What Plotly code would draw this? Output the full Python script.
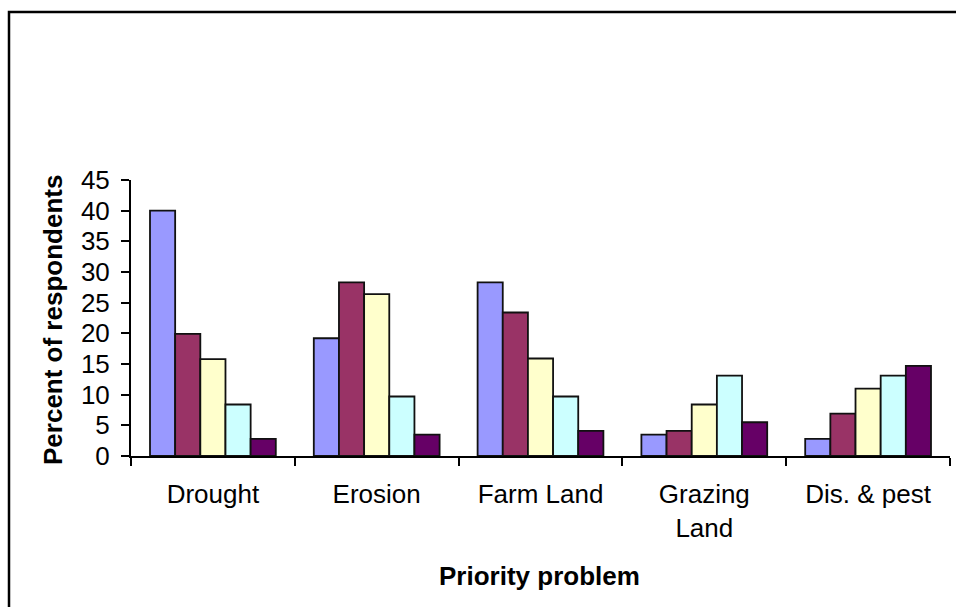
import plotly.graph_objects as go

categories = ["Drought", "Erosion", "Farm Land", "Grazing<br>Land", "Dis. & pest"]
series_names = ["Series 1", "Series 2", "Series 3", "Series 4", "Series 5"]
series_values = [
    [40.0, 19.2, 28.3, 3.5, 2.8],
    [19.9, 28.3, 23.4, 4.1, 6.9],
    [15.8, 26.4, 15.9, 8.4, 11.0],
    [8.4, 9.7, 9.7, 13.1, 13.1],
    [2.8, 3.5, 4.1, 5.5, 14.7],
]
colors = ["#9999FF", "#993366", "#FFFFCC", "#CCFFFF", "#660066"]
y_ticks = [0, 5, 10, 15, 20, 25, 30, 35, 40, 45]

W, H = 956, 607
L, R, T, B = 131, 6, 180, 151
pw, ph = W - L - R, H - T - B

fig = go.Figure()
for name, vals, col in zip(series_names, series_values, colors):
    fig.add_trace(go.Bar(
        x=categories, y=vals, name=name,
        marker=dict(color=col, line=dict(color="#111111", width=1.8)),
    ))

font = "Liberation Sans, Arial, sans-serif"
FS = 26
fig.update_layout(
    width=W, height=H,
    margin=dict(l=L, r=R, t=T, b=B, pad=0),
    paper_bgcolor="white", plot_bgcolor="white",
    barmode="group", bargap=0.232, bargroupgap=0,
    showlegend=False,
    font=dict(family=font, size=FS, color="black"),
    xaxis=dict(
        type="category", tickson="boundaries",
        ticks="outside", ticklen=8, tickwidth=1.5, tickcolor="black",
        showline=True, linecolor="black", linewidth=2,
        showgrid=False, zeroline=False,
        tickfont=dict(family=font, size=FS, color="black"),
        ticklabelstandoff=14,
    ),
    yaxis=dict(
        range=[0, 45], tickvals=y_ticks, ticktext=[str(v) for v in y_ticks],
        ticks="outside", ticklen=8, tickwidth=1.5, tickcolor="black",
        showline=True, linecolor="black", linewidth=2,
        showgrid=False, zeroline=False,
        tickfont=dict(family=font, size=FS, color="black"),
        ticklabelstandoff=6,
    ),
    annotations=[
        dict(text="<b>Percent of respondents</b>", xref="paper", yref="paper",
             x=(53 - L) / pw, y=(H - B - 320) / ph, textangle=-90,
             showarrow=False, xanchor="center", yanchor="middle",
             font=dict(family=font, size=FS, color="black")),
        dict(text="<b>Priority problem</b>", xref="paper", yref="paper",
             x=(539 - L) / pw, y=(H - B - 576) / ph,
             showarrow=False, xanchor="center", yanchor="middle",
             font=dict(family=font, size=FS, color="black")),
    ],
    shapes=[
        dict(type="rect", xref="paper", yref="paper",
             x0=(9 - L) / pw, x1=(975 - L) / pw,
             y0=(H - B - 630) / ph, y1=(H - B - 12) / ph,
             line=dict(color="black", width=2.5), fillcolor="rgba(0,0,0,0)",
             layer="below"),
    ],
)

fig.write_html("out.html", config={"displayModeBar": False},
               post_script="document.body.style.margin='0px';")
